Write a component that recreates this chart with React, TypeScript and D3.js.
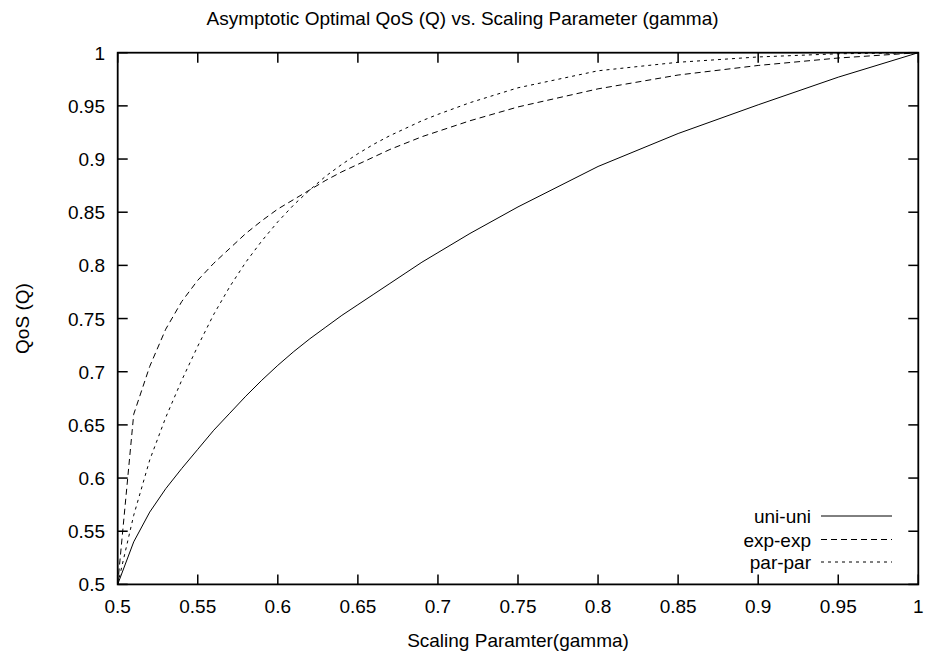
import React from "react";
import * as d3 from "d3";

// Scaling parameter (gamma) sample points for each curve
const gammaUni = [0.5, 0.51, 0.52, 0.53, 0.54, 0.55, 0.56, 0.57, 0.58, 0.59, 0.6, 0.61, 0.62, 0.63, 0.64, 0.65, 0.66, 0.67, 0.68, 0.69, 0.7, 0.72, 0.75, 0.8, 0.85, 0.9, 0.95, 1.0];
const qosUni = [0.5, 0.540, 0.568, 0.590, 0.609, 0.627, 0.645, 0.661, 0.677, 0.692, 0.706, 0.719, 0.731, 0.742, 0.753, 0.763, 0.773, 0.783, 0.793, 0.803, 0.812, 0.830, 0.855, 0.893, 0.924, 0.951, 0.977, 1.0];

const gammaExp = [0.5, 0.51, 0.52, 0.53, 0.54, 0.55, 0.56, 0.57, 0.58, 0.59, 0.6, 0.61, 0.62, 0.63, 0.64, 0.65, 0.66, 0.67, 0.68, 0.69, 0.7, 0.72, 0.75, 0.8, 0.85, 0.9, 0.95, 1.0];
const qosExp = [0.5, 0.660, 0.705, 0.740, 0.766, 0.786, 0.802, 0.816, 0.830, 0.842, 0.853, 0.862, 0.871, 0.880, 0.888, 0.895, 0.902, 0.909, 0.915, 0.921, 0.926, 0.936, 0.949, 0.966, 0.979, 0.988, 0.995, 1.0];

const gammaPar = [0.5, 0.51, 0.52, 0.53, 0.54, 0.55, 0.56, 0.57, 0.58, 0.59, 0.6, 0.61, 0.62, 0.63, 0.64, 0.65, 0.66, 0.67, 0.68, 0.69, 0.7, 0.72, 0.75, 0.8, 0.85, 0.9, 0.95, 1.0];
const qosPar = [0.5, 0.565, 0.617, 0.657, 0.692, 0.724, 0.754, 0.780, 0.803, 0.823, 0.841, 0.857, 0.871, 0.884, 0.895, 0.905, 0.914, 0.922, 0.929, 0.936, 0.942, 0.953, 0.967, 0.983, 0.991, 0.996, 0.999, 1.0];

const seriesNames = ["uni-uni", "exp-exp", "par-par"];
const seriesDash = ["none", "6,4", "3,4"];

const xTicks = [0.5, 0.55, 0.6, 0.65, 0.7, 0.75, 0.8, 0.85, 0.9, 0.95, 1];
const yTicks = [0.5, 0.55, 0.6, 0.65, 0.7, 0.75, 0.8, 0.85, 0.9, 0.95, 1];

const W = 925;
const H = 660;
const M = { left: 117.7, right: 918.3, top: 52.7, bottom: 584.4 };
const FONT = "'Liberation Sans', Arial, Helvetica, sans-serif";
const FS = 19;
const TICK = 10;

const fmt = (v: number) => (v === 1 ? "1" : String(+v.toFixed(2)));

export default function App() {
  const x = d3.scaleLinear().domain([0.5, 1]).range([M.left, M.right]);
  const y = d3.scaleLinear().domain([0.5, 1]).range([M.bottom, M.top]);

  const line = d3
    .line<[number, number]>()
    .x((d) => x(d[0]))
    .y((d) => y(d[1]));

  const series = [
    d3.zip(gammaUni, qosUni) as [number, number][],
    d3.zip(gammaExp, qosExp) as [number, number][],
    d3.zip(gammaPar, qosPar) as [number, number][],
  ];

  const legendRows = [516, 539.5, 562];

  return (
    <svg
      width={W}
      height={H}
      style={{ display: "block", position: "absolute", left: 0, top: 0 }}
      fontFamily={FONT}
      fontSize={FS}
    >
      <rect x={0} y={0} width={W} height={H} fill="#fff" />

      <text x={W / 2} y={25} textAnchor="middle" fill="#000">
        Asymptotic Optimal QoS (Q) vs. Scaling Parameter (gamma)
      </text>

      {/* curves */}
      {series.map((s, i) => (
        <path
          key={seriesNames[i]}
          d={line(s) || ""}
          fill="none"
          stroke="#000"
          strokeWidth={1}
          strokeDasharray={seriesDash[i]}
        />
      ))}

      {/* ticks on all four sides, pointing inward */}
      {xTicks.map((t) => (
        <g key={"xt" + t}>
          <line x1={x(t)} x2={x(t)} y1={M.bottom} y2={M.bottom - TICK} stroke="#000" strokeWidth={1.5} />
          <line x1={x(t)} x2={x(t)} y1={M.top} y2={M.top + TICK} stroke="#000" strokeWidth={1.5} />
          <text x={x(t)} y={M.bottom + 29} textAnchor="middle" fill="#000">
            {fmt(t)}
          </text>
        </g>
      ))}
      {yTicks.map((t) => (
        <g key={"yt" + t}>
          <line x1={M.left} x2={M.left + TICK} y1={y(t)} y2={y(t)} stroke="#000" strokeWidth={1.5} />
          <line x1={M.right} x2={M.right - TICK} y1={y(t)} y2={y(t)} stroke="#000" strokeWidth={1.5} />
          <text x={105} y={y(t) + 7} textAnchor="end" fill="#000">
            {fmt(t)}
          </text>
        </g>
      ))}

      <rect
        x={M.left}
        y={M.top}
        width={M.right - M.left}
        height={M.bottom - M.top}
        fill="none"
        stroke="#000"
        strokeWidth={1.8}
      />

      <text x={(M.left + M.right) / 2} y={647} textAnchor="middle" fill="#000">
        Scaling Paramter(gamma)
      </text>
      <text
        transform={`translate(29, ${(M.top + M.bottom) / 2}) rotate(-90)`}
        textAnchor="middle"
        fill="#000"
      >
        QoS (Q)
      </text>

      {/* key */}
      {seriesNames.map((name, i) => (
        <g key={"key" + name}>
          <text x={811} y={legendRows[i] + 7} textAnchor="end" fill="#000">
            {name}
          </text>
          <line
            x1={821}
            x2={892}
            y1={legendRows[i]}
            y2={legendRows[i]}
            stroke="#000"
            strokeWidth={1}
            strokeDasharray={seriesDash[i]}
          />
        </g>
      ))}
    </svg>
  );
}
